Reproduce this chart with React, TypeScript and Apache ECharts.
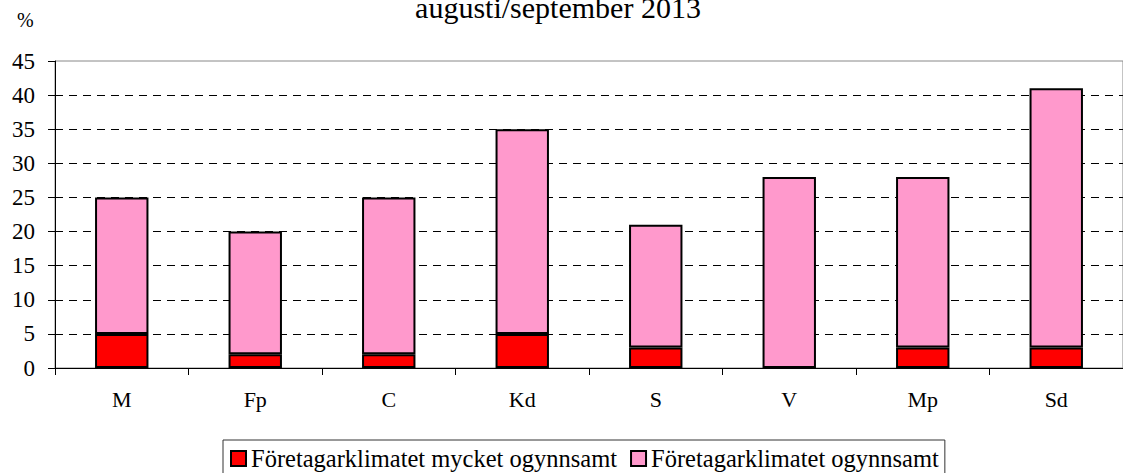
import React, { useEffect, useRef } from "react";
import * as echarts from "echarts";

const categories = ["M", "Fp", "C", "Kd", "S", "V", "Mp", "Sd"];
const veryUnfavourable = [5, 2, 2, 5, 3, 0, 3, 3];
const unfavourable = [20, 18, 23, 30, 18, 28, 25, 38];
const seriesNames = ["Företagarklimatet mycket ogynnsamt", "Företagarklimatet ogynnsamt"];
const titleText = "augusti/september 2013";
const unitLabel = "%";

const FONT = "Liberation Serif";

export default function App() {
  const ref = useRef<HTMLDivElement>(null);
  useEffect(() => {
    if (!ref.current) return;
    const chart = echarts.init(ref.current, undefined, { renderer: "svg" });
    chart.setOption({
      animation: false,
      backgroundColor: "#ffffff",
      textStyle: { fontFamily: FONT, color: "#000" },
      title: {
        text: titleText,
        left: 553,
        textAlign: "center",
        top: -13,
        textStyle: { fontFamily: FONT, fontSize: 30, fontWeight: "normal", color: "#000" },
      },
      graphic: [
        {
          type: "text",
          left: 17,
          top: 10,
          style: { text: unitLabel, fontFamily: FONT, fontSize: 20, fill: "#000" },
        },
      ],
      legend: {
        left: 223,
        top: 440,
        orient: "horizontal",
        icon: "rect",
        itemWidth: 15,
        itemHeight: 15,
        itemGap: 13,
        padding: [6, 6, 12, 7],
        borderColor: "#333",
        borderWidth: 1,
        textStyle: { fontFamily: FONT, fontSize: 24.5, color: "#000" },
        itemStyle: { borderColor: "#000", borderWidth: 2 },
        data: seriesNames,
      },
      grid: {
        left: 55,
        right: -7,
        top: 61,
        bottom: 105,
        show: true,
        borderColor: "#888",
        borderWidth: 1,
        containLabel: false,
      },
      xAxis: {
        type: "category",
        data: categories,
        boundaryGap: true,
        axisLine: { lineStyle: { color: "#000", width: 1 } },
        axisTick: { show: true, length: 7, lineStyle: { color: "#000" }, alignWithLabel: false },
        axisLabel: { fontFamily: FONT, fontSize: 22, color: "#000", margin: 20 },
      },
      yAxis: {
        type: "value",
        min: 0,
        max: 45,
        interval: 5,
        axisLine: { show: true, lineStyle: { color: "#000", width: 1 } },
        axisTick: { show: true, length: 7, lineStyle: { color: "#000" } },
        axisLabel: { fontFamily: FONT, fontSize: 23, color: "#000", margin: 20 },
        splitLine: {
          show: true,
          showMaxLine: false,
          lineStyle: { color: "#000", type: [8, 6], width: 1 },
        },
      },
      series: [
        {
          name: seriesNames[0],
          type: "bar",
          stack: "total",
          data: veryUnfavourable.map((v) => (v === 0 ? "-" : v)),
          barWidth: "40%",
          itemStyle: { color: "#FF0000", borderColor: "#000", borderWidth: 2 },
        },
        {
          name: seriesNames[1],
          type: "bar",
          stack: "total",
          data: unfavourable,
          barWidth: "40%",
          itemStyle: { color: "#FF99CC", borderColor: "#000", borderWidth: 2 },
        },
      ],
    });
    return () => chart.dispose();
  }, []);
  return (
    <div
      ref={ref}
      style={{ position: "fixed", left: 0, top: 0, width: 1123, height: 473 }}
    />
  );
}
